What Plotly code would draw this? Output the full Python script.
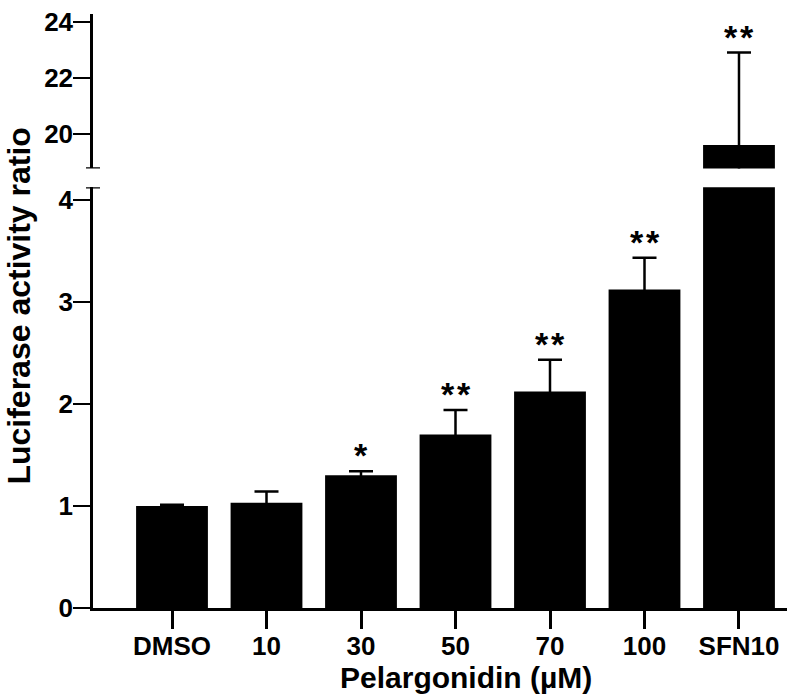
import plotly.graph_objects as go

categories = ["DMSO", "10", "30", "50", "70", "100", "SFN10"]
values = [1.00, 1.03, 1.30, 1.70, 2.12, 3.12, 19.6]
errors = [0.01, 0.11, 0.04, 0.24, 0.31, 0.31, 3.3]
stars = ["", "", "*", "**", "**", "**", "**"]

lower_ticks = [0, 1, 2, 3, 4]
upper_ticks = [20, 22, 24]
lower_range = [0, 4.12]
upper_range = [18.76, 24.28]

FONT = "Liberation Sans, Arial, sans-serif"
BAR_W = 0.76
idx = list(range(len(categories)))

fig = go.Figure()

# lower panel bars (SFN10 clipped at top of range)
fig.add_trace(go.Bar(
    x=idx, y=values, width=[BAR_W] * len(categories),
    marker=dict(color="black", line=dict(width=0)),
    error_y=dict(type="data", array=[e if v < lower_range[1] else 0 for v, e in zip(values, errors)],
                 symmetric=True, color="black", thickness=2.5, width=12),
    xaxis="x", yaxis="y", showlegend=False, hoverinfo="skip",
))
# upper panel bars (broken axis part)
fig.add_trace(go.Bar(
    x=idx, y=[v if v > upper_range[0] else None for v in values],
    width=[BAR_W] * len(categories),
    marker=dict(color="black", line=dict(width=0)),
    error_y=dict(type="data", array=errors, symmetric=True,
                 color="black", thickness=2.5, width=12),
    xaxis="x", yaxis="y2", showlegend=False, hoverinfo="skip",
))

annotations = []
for i, (v, e, s) in enumerate(zip(values, errors, stars)):
    if not s:
        continue
    yref = "y2" if v > upper_range[0] else "y"
    annotations.append(dict(
        x=i, y=v + e, xref="x", yref=yref, text="\u200a".join(s),
        showarrow=False, yanchor="middle", xanchor="center", yshift=16,
        font=dict(family=FONT, size=34, color="black", weight="bold"),
    ))

annotations.append(dict(
    text="Luciferase activity ratio", x=-0.108, y=0.5075, xref="paper", yref="paper",
    textangle=-90, showarrow=False, xanchor="center", yanchor="middle",
    font=dict(family=FONT, size=32, color="black", weight="bold"),
))
annotations.append(dict(
    text="Pelargonidin (µM)", x=0.538, y=-0.1165, xref="paper", yref="paper",
    showarrow=False, xanchor="center", yanchor="middle",
    font=dict(family=FONT, size=30, color="black", weight="bold"),
))

shapes = [
    dict(type="line", xref="paper", yref="y2", x0=-0.0101, x1=0.0101,
         y0=upper_range[0], y1=upper_range[0], line=dict(color="black", width=2.5)),
    dict(type="line", xref="paper", yref="y", x0=-0.0101, x1=0.0101,
         y0=lower_range[1], y1=lower_range[1], line=dict(color="black", width=2.5)),
]

tickfont = dict(family=FONT, size=26, color="black", weight="bold")

fig.update_layout(
    width=800, height=698,
    margin=dict(l=93, r=13, t=7, b=90),
    paper_bgcolor="white", plot_bgcolor="white",
    barmode="overlay",
    xaxis=dict(range=[-0.836, 6.508], tickvals=idx, ticktext=categories,
               showline=True, linecolor="black", linewidth=2.5,
               ticks="outside", ticklen=18, tickwidth=2.5, tickcolor="black",
               ticklabelstandoff=-5, ticklabeloverflow="allow",
               tickfont=tickfont, showgrid=False, zeroline=False, anchor="y"),
    yaxis=dict(domain=[0, 0.7083], range=lower_range, tickvals=lower_ticks,
               showline=True, linecolor="black", linewidth=2.5,
               ticks="outside", ticklen=17, tickwidth=2, tickcolor="black",
               ticklabelstandoff=-5, ticklabeloverflow="allow",
               tickfont=tickfont, showgrid=False, zeroline=False),
    yaxis2=dict(domain=[0.740, 1], range=upper_range, tickvals=upper_ticks,
                showline=True, linecolor="black", linewidth=2.5,
                ticks="outside", ticklen=17, tickwidth=2, tickcolor="black",
                ticklabelstandoff=-5, ticklabeloverflow="allow",
                tickfont=tickfont, showgrid=False, zeroline=False, anchor="x"),
    annotations=annotations, shapes=shapes,
)

fig.write_html("out.html", config={"displayModeBar": False},
               post_script="document.body.style.margin='0';")
